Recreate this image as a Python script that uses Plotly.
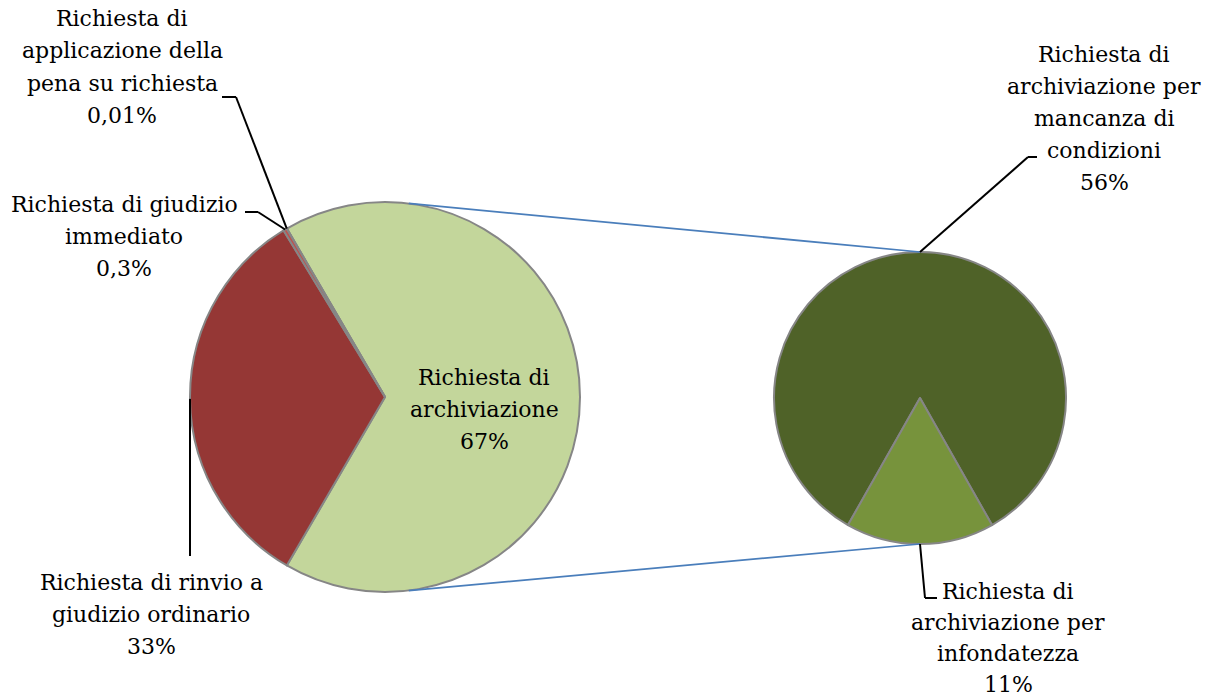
import math
import plotly.graph_objects as go

# ---------------- data ----------------
main_labels = [
    "Richiesta di archiviazione",
    "Richiesta di rinvio a giudizio ordinario",
    "Richiesta di giudizio immediato",
    "Richiesta di applicazione della pena su richiesta",
]
main_values = [67, 33, 0.3, 0.01]
main_text = ["67%", "33%", "0,3%", "0,01%"]
main_colors = ["#C3D69B", "#953735", "#C0504D", "#8064A2"]

sec_labels = [
    "Richiesta di archiviazione per mancanza di condizioni",
    "Richiesta di archiviazione per infondatezza",
]
sec_values = [56, 11]
sec_text = ["56%", "11%"]
sec_colors = ["#4F6228", "#77933C"]

# ---------------- layout geometry (pixels) ----------------
W, H = 1210, 697
MC = (385, 397)   # main pie centre
MR = 195          # main pie radius
SC = (920, 398)   # secondary pie centre
SR = 146          # secondary pie radius

FONT = "DejaVu Serif"
FS = 22
LS = 32  # line spacing

def px(x):
    return x / W

def py(y):
    return 1 - y / H

def pt(c, r, ang):
    a = math.radians(ang)
    return (c[0] + r * math.sin(a), c[1] - r * math.cos(a))

# slice angles (clockwise from 12 o'clock)
mtot = sum(main_values)
arch_span = main_values[0] / mtot * 360
main_rot = 90 - arch_span / 2
main_bounds = [main_rot]
for v in main_values:
    main_bounds.append(main_bounds[-1] + v / mtot * 360)
main_mid = [(main_bounds[i] + main_bounds[i + 1]) / 2 for i in range(len(main_values))]

stot = sum(sec_values)
small_span = sec_values[1] / stot * 360
sec_rot = 180 + small_span / 2
sec_bounds = [sec_rot]
for v in sec_values:
    sec_bounds.append(sec_bounds[-1] + v / stot * 360)
sec_mid = [(sec_bounds[i] + sec_bounds[i + 1]) / 2 for i in range(len(sec_values))]

fig = go.Figure()

fig.add_trace(go.Pie(
    labels=main_labels, values=main_values, sort=False, direction="clockwise",
    rotation=main_rot, textinfo="none", hoverinfo="label+percent",
    marker=dict(colors=main_colors, line=dict(color="#868686", width=2)),
    domain=dict(x=[px(MC[0] - MR), px(MC[0] + MR)], y=[py(MC[1] + MR), py(MC[1] - MR)]),
    showlegend=False,
))
fig.add_trace(go.Pie(
    labels=sec_labels, values=sec_values, sort=False, direction="clockwise",
    rotation=sec_rot, textinfo="none", hoverinfo="label+percent",
    marker=dict(colors=sec_colors, line=dict(color="#868686", width=2)),
    domain=dict(x=[px(SC[0] - SR), px(SC[0] + SR)], y=[py(SC[1] + SR), py(SC[1] - SR)]),
    showlegend=False,
))

shapes = []

def polyline(points, color="black", width=2):
    for (x0, y0), (x1, y1) in zip(points[:-1], points[1:]):
        shapes.append(dict(type="line", xref="paper", yref="paper",
                           x0=px(x0), y0=py(y0), x1=px(x1), y1=py(y1),
                           line=dict(color=color, width=width)))

# connector lines between pies
polyline([pt(MC, MR, 7), pt(SC, SR, 0)], color="#4A7EBB", width=1.75)
polyline([pt(MC, MR, 173), pt(SC, SR, 180)], color="#4A7EBB", width=1.75)

# leader lines
polyline([pt(MC, MR, main_mid[3]), (236, 97), (222, 97)])
polyline([pt(MC, MR, main_mid[2]), (258, 212), (245, 212)])
a = pt(MC, MR, main_mid[1])
polyline([a, (a[0], 556)])
polyline([pt(SC, SR, sec_mid[0]), (1028, 157), (1037, 157)])
b = pt(SC, SR, sec_mid[1])
polyline([b, (925, 598), (937, 598)])

annotations = []

def text_block(lines, cx, y_first, ls=LS):
    for i, ln in enumerate(lines):
        annotations.append(dict(
            text=ln, x=px(cx), y=py(y_first + i * ls), xref="paper", yref="paper",
            xanchor="center", yanchor="middle", showarrow=False,
            font=dict(family=FONT, size=FS, color="black"),
        ))

text_block(["Richiesta di", "applicazione della", "pena su richiesta", main_text[3]], 122, 19)
text_block(["Richiesta di giudizio", "immediato", main_text[2]], 124, 204)
text_block(["Richiesta di rinvio a", "giudizio ordinario", main_text[1]], 151, 582)
ic = pt(MC, MR * 0.51, main_mid[0])
text_block(["Richiesta di", "archiviazione", main_text[0]], ic[0], ic[1] - 20)
text_block(["Richiesta di", "archiviazione per", "mancanza di", "condizioni", sec_text[0]], 1104, 54)
text_block(["Richiesta di", "archiviazione per", "infondatezza", sec_text[1]], 1008, 591, ls=31)

fig.update_layout(
    width=W, height=H, margin=dict(l=0, r=0, t=0, b=0),
    paper_bgcolor="white", plot_bgcolor="white",
    shapes=shapes, annotations=annotations,
)

fig.write_html(
    "out.html",
    config={"displayModeBar": False},
    post_script="document.body.style.margin='0';document.body.style.overflow='hidden';",
)
